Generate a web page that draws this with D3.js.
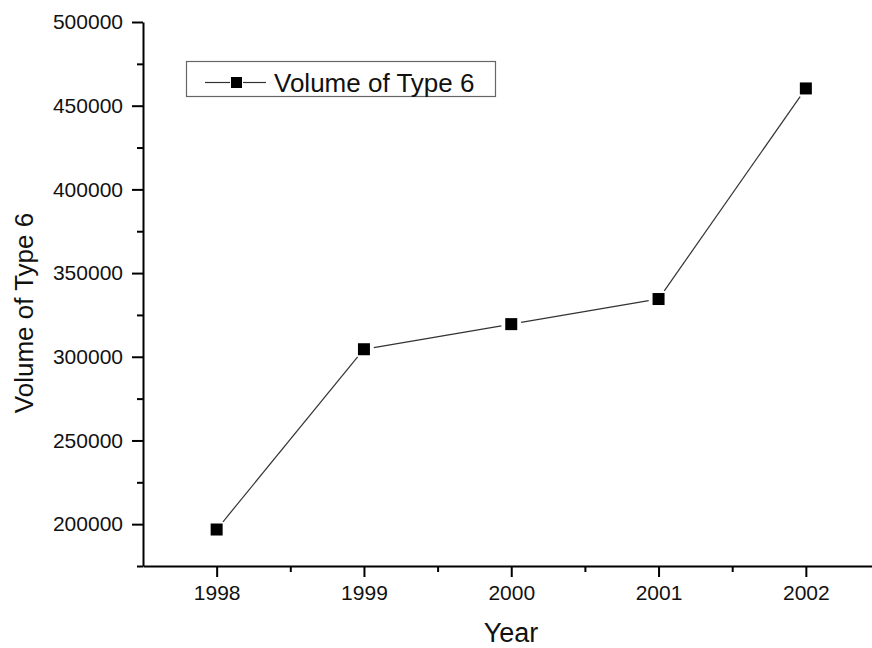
<!DOCTYPE html>
<html>
<head>
<meta charset="utf-8">
<script src="https://cdn.jsdelivr.net/npm/d3@7"></script>
<style>
  body { margin: 0; background: #fff; }
  svg { display: block; font-family: "Liberation Sans", Arial, sans-serif; }
</style>
</head>
<body>
<div class="chart"></div>
<script>
var years = [1998, 1999, 2000, 2001, 2002];
var volumes = [196800, 304500, 319500, 334500, 460300];
var yTicks = [200000, 250000, 300000, 350000, 400000, 450000, 500000];
var yMinorTicks = [175000, 225000, 275000, 325000, 375000, 425000, 475000];
var xMinorTicks = [1998.5, 1999.5, 2000.5, 2001.5, 2002.5];
var seriesName = 'Volume of Type 6';

var w = 872,
    h = 648;

var svg = d3.select('.chart').append('svg').attr('width', w).attr('height', h);

var x = d3.scaleLinear().domain([1997.5, 2002.5]).range([143, 879.5]);
var y = d3.scaleLinear().domain([175000, 500000]).range([566, 22]);

// y axis, major then minor ticks
svg.append('g').attr('transform', 'translate(143,0)')
  .call(d3.axisLeft(y).tickValues(yTicks).tickSize(11).tickSizeOuter(0).tickPadding(9).tickFormat(d3.format('d')));
svg.append('g').attr('transform', 'translate(143,0)')
  .call(d3.axisLeft(y).tickValues(yMinorTicks).tickSize(6).tickFormat(''))
  .select('.domain').remove();

svg.append('g').attr('transform', 'translate(0,566)')
  .call(d3.axisBottom(x).tickValues(years).tickSize(11).tickSizeOuter(0).tickPadding(8).tickFormat(d3.format('d')));
svg.append('g').attr('transform', 'translate(0,566)')
  .call(d3.axisBottom(x).tickValues(xMinorTicks).tickSize(6).tickFormat(''))
  .select('.domain').remove();

svg.selectAll('.domain').attr('stroke-width', 2).attr('stroke', '#000');
svg.selectAll('.tick line').attr('stroke-width', 2).attr('stroke', '#000');
svg.selectAll('.tick text').attr('font-size', 21).attr('fill', '#111')
  .attr('font-family', '"Liberation Sans", Arial, sans-serif');

// axis titles
svg.append('text')
  .attr('x', 511).attr('y', 642)
  .attr('text-anchor', 'middle')
  .attr('font-size', 27)
  .attr('fill', '#111')
  .text('Year');

svg.append('text')
  .attr('transform', 'translate(33,313) rotate(-90)')
  .attr('text-anchor', 'middle')
  .attr('font-size', 26)
  .attr('fill', '#111')
  .text(seriesName);

// line segments with small gaps around the markers
var pts = years.map(function (d, i) { return [x(d), y(volumes[i])]; });
var gap = 10;
var segs = [];
for (var i = 0; i < pts.length - 1; i++) {
  var a = pts[i], b = pts[i + 1];
  var dx = b[0] - a[0], dy = b[1] - a[1];
  var len = Math.sqrt(dx * dx + dy * dy);
  var ux = dx / len, uy = dy / len;
  segs.push([a[0] + ux * gap, a[1] + uy * gap, b[0] - ux * gap, b[1] - uy * gap]);
}

svg.selectAll('.seg')
  .data(segs)
  .enter().append('line')
  .attr('class', 'seg')
  .attr('x1', function (d) { return d[0]; })
  .attr('y1', function (d) { return d[1]; })
  .attr('x2', function (d) { return d[2]; })
  .attr('y2', function (d) { return d[3]; })
  .attr('stroke', '#333')
  .attr('stroke-width', 1.2);

var ms = 12;
svg.selectAll('.pt')
  .data(pts)
  .enter().append('rect')
  .attr('class', 'pt')
  .attr('x', function (d) { return d[0] - ms / 2; })
  .attr('y', function (d) { return d[1] - ms / 2; })
  .attr('width', ms)
  .attr('height', ms)
  .attr('fill', '#000');

// legend
var lg = svg.append('g').attr('transform', 'translate(186,61)');
lg.append('rect')
  .attr('x', 0.5).attr('y', 0.5)
  .attr('width', 309).attr('height', 35)
  .attr('fill', '#fff')
  .attr('stroke', '#666')
  .attr('stroke-width', 1.2);
lg.append('line').attr('x1', 19).attr('x2', 44).attr('y1', 21.5).attr('y2', 21.5)
  .attr('stroke', '#333').attr('stroke-width', 1.2);
lg.append('line').attr('x1', 57).attr('x2', 80).attr('y1', 21.5).attr('y2', 21.5)
  .attr('stroke', '#333').attr('stroke-width', 1.2);
lg.append('rect').attr('x', 45).attr('y', 16).attr('width', 11).attr('height', 11).attr('fill', '#000');
lg.append('text')
  .attr('x', 88).attr('y', 31)
  .attr('font-size', 26)
  .attr('fill', '#111')
  .text(seriesName);
</script>
</body>
</html>
